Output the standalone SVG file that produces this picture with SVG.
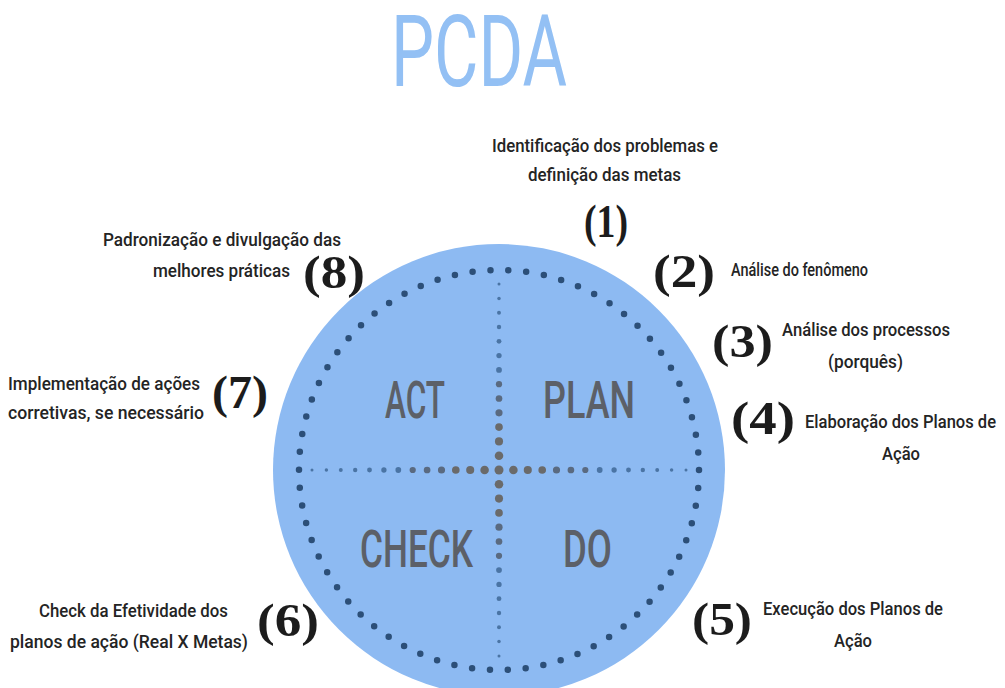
<svg xmlns="http://www.w3.org/2000/svg" width="1005" height="688" viewBox="0 0 1005 688">
<style>
.title{font-family:Roboto,"Liberation Sans",sans-serif;font-size:100px;fill:#93c0f4;}
.quad{font-family:Roboto,"Liberation Sans",sans-serif;font-weight:500;font-size:52px;fill:#5c6068;}
.num{font-family:"Liberation Serif",serif;font-weight:bold;font-size:47px;fill:#1c1c1c;}
.lbl{font-family:Roboto,"Liberation Sans",Arial,sans-serif;font-weight:500;font-size:19px;fill:#242424;}
.ring{fill:none;stroke:#2c4f78;stroke-width:6.5;stroke-linecap:round;stroke-dasharray:0 17.952;}
.g{fill:#6a6a6a;}
.m{fill:#5a6a80;}
.b{fill:#4a74a4;}
</style>
<rect width="1005" height="688" fill="#ffffff"/>
<text id="title" class="title" x="391" y="86" textLength="176" lengthAdjust="spacingAndGlyphs">PCDA</text>

<g id="cycle">
<circle cx="499" cy="470" r="226" fill="#8dbaf2"/>
<circle class="ring" cx="499" cy="470" r="200"/>
</g>

<g id="connectors">
<g id="hline">
<circle class="g" cx="499" cy="470" r="4.5"/>
<circle class="g" cx="513.4" cy="470" r="4.27"/><circle class="g" cx="484.6" cy="470" r="4.27"/>
<circle class="g" cx="527.8" cy="470" r="4.04"/><circle class="g" cx="470.2" cy="470" r="4.04"/>
<circle class="g" cx="542.2" cy="470" r="3.81"/><circle class="g" cx="455.8" cy="470" r="3.81"/>
<circle class="m" cx="556.5" cy="470" r="3.58"/><circle class="m" cx="441.5" cy="470" r="3.58"/>
<circle class="m" cx="570.9" cy="470" r="3.35"/><circle class="m" cx="427.1" cy="470" r="3.35"/>
<circle class="m" cx="585.3" cy="470" r="3.12"/><circle class="m" cx="412.7" cy="470" r="3.12"/>
<circle class="b" cx="599.7" cy="470" r="2.88"/><circle class="b" cx="398.3" cy="470" r="2.88"/>
<circle class="b" cx="614.1" cy="470" r="2.65"/><circle class="b" cx="383.9" cy="470" r="2.65"/>
<circle class="b" cx="628.5" cy="470" r="2.42"/><circle class="b" cx="369.5" cy="470" r="2.42"/>
<circle class="b" cx="642.8" cy="470" r="2.19"/><circle class="b" cx="355.2" cy="470" r="2.19"/>
<circle class="b" cx="657.2" cy="470" r="1.96"/><circle class="b" cx="340.8" cy="470" r="1.96"/>
<circle class="b" cx="671.6" cy="470" r="1.73"/><circle class="b" cx="326.4" cy="470" r="1.73"/>
<circle class="b" cx="686" cy="470" r="1.5"/><circle class="b" cx="312" cy="470" r="1.5"/>
</g>
<g id="vline">
<circle class="g" cx="499" cy="455.7" r="4.27"/><circle class="g" cx="499" cy="484.3" r="4.27"/>
<circle class="g" cx="499" cy="441.4" r="4.04"/><circle class="g" cx="499" cy="498.6" r="4.04"/>
<circle class="g" cx="499" cy="427.1" r="3.81"/><circle class="g" cx="499" cy="512.9" r="3.81"/>
<circle class="m" cx="499" cy="412.8" r="3.58"/><circle class="m" cx="499" cy="527.2" r="3.58"/>
<circle class="m" cx="499" cy="398.5" r="3.35"/><circle class="m" cx="499" cy="541.5" r="3.35"/>
<circle class="m" cx="499" cy="384.2" r="3.12"/><circle class="m" cx="499" cy="555.8" r="3.12"/>
<circle class="b" cx="499" cy="369.9" r="2.88"/><circle class="b" cx="499" cy="570.1" r="2.88"/>
<circle class="b" cx="499" cy="355.6" r="2.65"/><circle class="b" cx="499" cy="584.4" r="2.65"/>
<circle class="b" cx="499" cy="341.3" r="2.42"/><circle class="b" cx="499" cy="598.7" r="2.42"/>
<circle class="b" cx="499" cy="327" r="2.19"/><circle class="b" cx="499" cy="613" r="2.19"/>
<circle class="b" cx="499" cy="312.7" r="1.96"/><circle class="b" cx="499" cy="627.3" r="1.96"/>
<circle class="b" cx="499" cy="298.4" r="1.73"/><circle class="b" cx="499" cy="641.6" r="1.73"/>
<circle class="b" cx="499" cy="284.1" r="1.5"/><circle class="b" cx="499" cy="655.9" r="1.5"/>
</g>
</g>

<g id="act"><text class="quad" x="385" y="418" textLength="60" lengthAdjust="spacingAndGlyphs">ACT</text></g>
<g id="plan"><text class="quad" x="543" y="418" textLength="92" lengthAdjust="spacingAndGlyphs">PLAN</text></g>
<g id="check"><text class="quad" x="360" y="567" textLength="113" lengthAdjust="spacingAndGlyphs">CHECK</text></g>
<g id="do"><text class="quad" x="563" y="567" textLength="49" lengthAdjust="spacingAndGlyphs">DO</text></g>

<g id="step1">
<text class="lbl" x="492" y="152" textLength="226" lengthAdjust="spacingAndGlyphs">Identificação dos problemas e</text>
<text class="lbl" x="528" y="181" textLength="153" lengthAdjust="spacingAndGlyphs">definição das metas</text>
<text class="num" x="584" y="237" textLength="44" lengthAdjust="spacingAndGlyphs">(1)</text>
</g>
<g id="step2">
<text class="num" x="653" y="287" textLength="62" lengthAdjust="spacingAndGlyphs">(2)</text>
<text class="lbl" x="731" y="276" textLength="137" lengthAdjust="spacingAndGlyphs">Análise do fenômeno</text>
</g>
<g id="step3">
<text class="num" x="712" y="357" textLength="61" lengthAdjust="spacingAndGlyphs">(3)</text>
<text class="lbl" x="782" y="336" textLength="168" lengthAdjust="spacingAndGlyphs">Análise dos processos</text>
<text class="lbl" x="828" y="368" textLength="75" lengthAdjust="spacingAndGlyphs">(porquês)</text>
</g>
<g id="step4">
<text class="num" x="731" y="434" textLength="64" lengthAdjust="spacingAndGlyphs">(4)</text>
<text class="lbl" x="805" y="428" textLength="191" lengthAdjust="spacingAndGlyphs">Elaboração dos Planos de</text>
<text class="lbl" x="882" y="460" textLength="38" lengthAdjust="spacingAndGlyphs">Ação</text>
</g>
<g id="step5">
<text class="num" x="692" y="635" textLength="60" lengthAdjust="spacingAndGlyphs">(5)</text>
<text class="lbl" x="763" y="615" textLength="180" lengthAdjust="spacingAndGlyphs">Execução dos Planos de</text>
<text class="lbl" x="834" y="647" textLength="38" lengthAdjust="spacingAndGlyphs">Ação</text>
</g>
<g id="step6">
<text class="num" x="257" y="636" textLength="62" lengthAdjust="spacingAndGlyphs">(6)</text>
<text class="lbl" x="39" y="617" textLength="189" lengthAdjust="spacingAndGlyphs">Check da Efetividade dos</text>
<text class="lbl" x="10" y="648" textLength="238" lengthAdjust="spacingAndGlyphs">planos de ação (Real X Metas)</text>
</g>
<g id="step7">
<text class="num" x="212" y="408" textLength="56" lengthAdjust="spacingAndGlyphs">(7)</text>
<text class="lbl" x="8" y="390" textLength="192" lengthAdjust="spacingAndGlyphs">Implementação de ações</text>
<text class="lbl" x="8" y="419" textLength="196" lengthAdjust="spacingAndGlyphs">corretivas, se necessário</text>
</g>
<g id="step8">
<text class="num" x="303" y="288" textLength="62" lengthAdjust="spacingAndGlyphs">(8)</text>
<text class="lbl" x="103" y="246" textLength="238" lengthAdjust="spacingAndGlyphs">Padronização e divulgação das</text>
<text class="lbl" x="153" y="277" textLength="137" lengthAdjust="spacingAndGlyphs">melhores práticas</text>
</g>
</svg>
